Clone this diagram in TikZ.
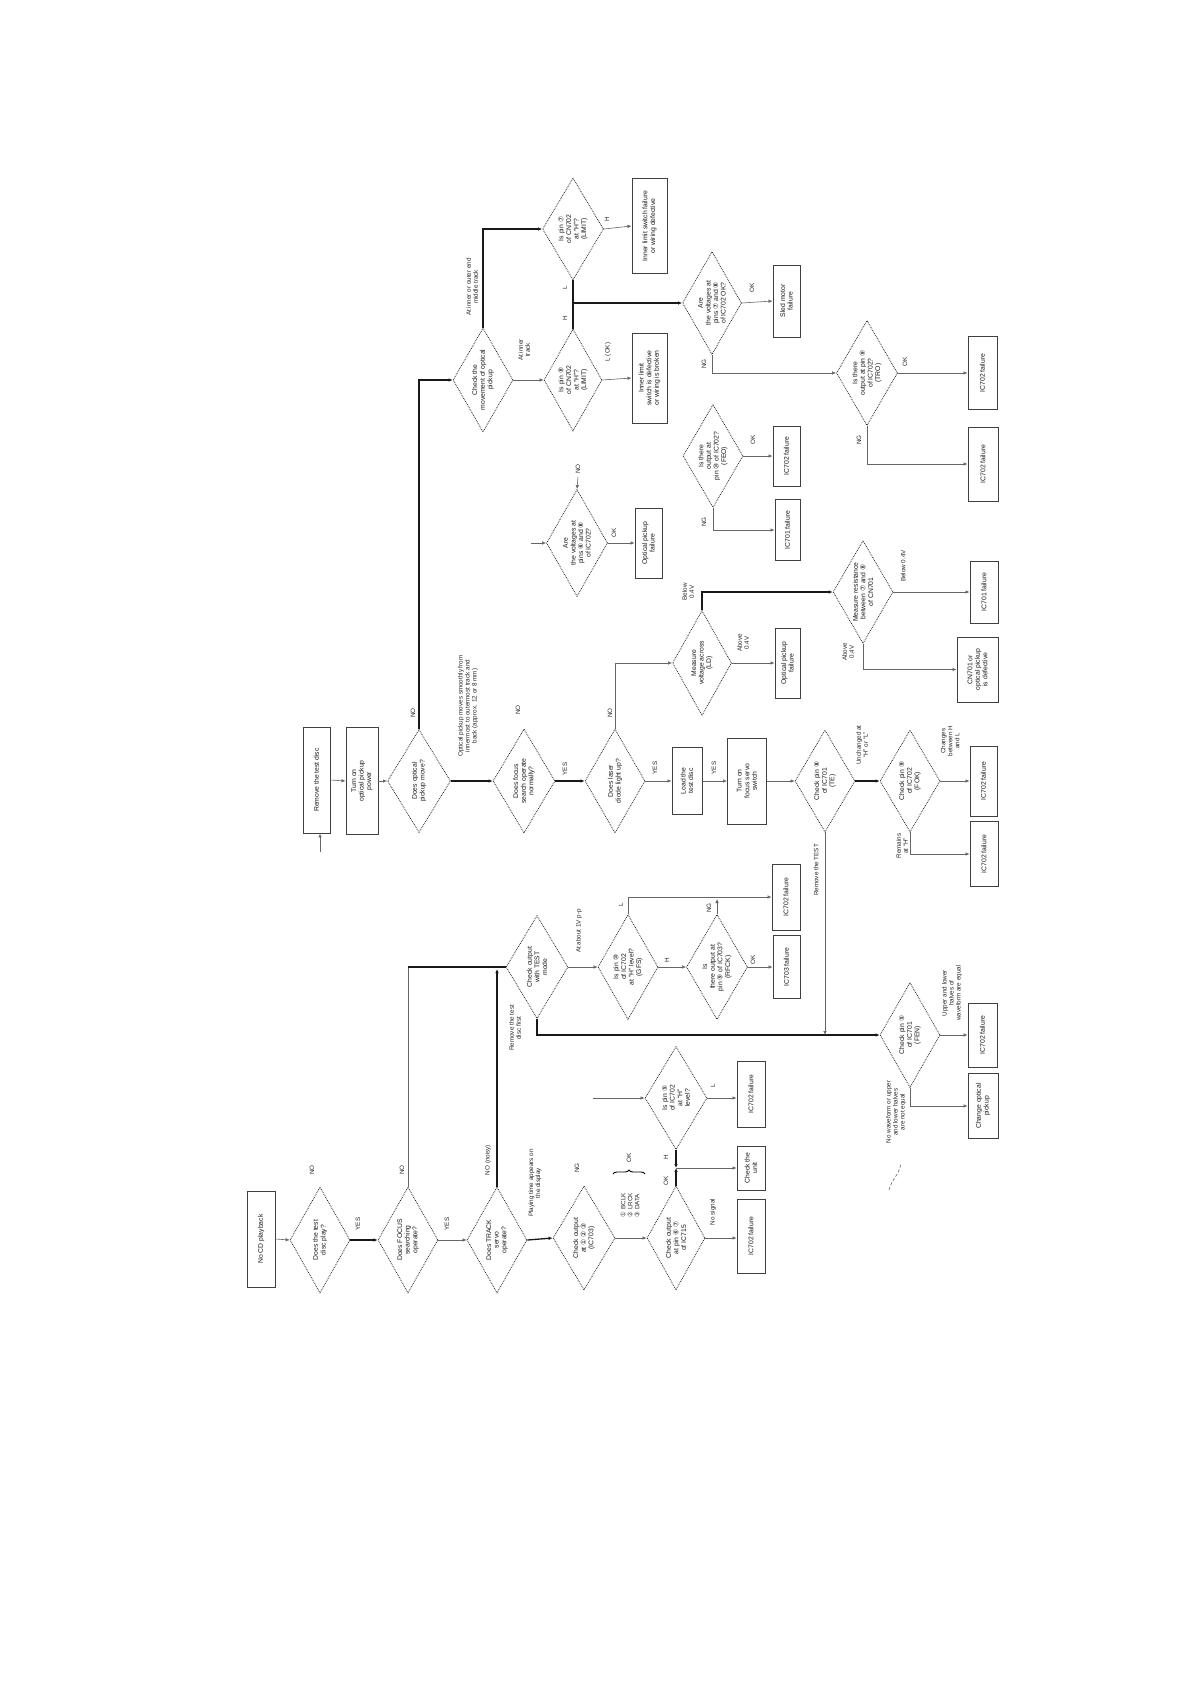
\documentclass[tikz,border=0pt]{standalone}
\usepackage{fontspec}
\setmainfont{Liberation Sans}
\newfontfamily\dvs{DejaVu Sans}
\usetikzlibrary{shapes.geometric,decorations.pathreplacing,arrows.meta}
\newcommand\ci[1]{{\dvs #1}}
\tikzset{
 dia/.style={draw=black!85, densely dotted, line width=0.8pt, shape=diamond, inner sep=0pt},
 bx/.style={draw=black!75, line width=0.9pt, inner sep=0pt},
 txt/.style={rotate=90, align=center, font=\fontsize{6.8}{7.6}\selectfont, inner sep=0pt, text=black!90},
 lbl/.style={rotate=90, align=center, font=\fontsize{6.3}{7}\selectfont, inner sep=0pt, text=black!85},
 thk/.style={line width=1.3pt, black!90, -{Latex[length=4pt,width=3.5pt]}},
 thn/.style={line width=0.6pt, black!60, -{Latex[length=4pt,width=3.5pt]}},
 thkl/.style={line width=1.3pt, black!90},
 thnl/.style={line width=0.6pt, black!60},
}
\newcommand\mkD[6]{\node[dia,minimum width=#4pt,minimum height=#5pt] (#1) at (#2,#3) {}; \node[txt] (#1t) at (#1) {#6};}
\newcommand\mkB[6]{\node[bx,minimum width=#4pt,minimum height=#5pt] (#1) at (#2,#3) {}; \node[txt] (#1t) at (#1) {#6};}
\begin{document}
\begin{tikzpicture}[x=1pt,y=-1pt]
\fill[white] (0,0) rectangle (1190,1684);
\useasboundingbox (0,0) rectangle (1190,1684);

% ---------- bottom row (main start) ----------
\mkB{bnocd}{261}{1239}{28}{96}{No CD playback}
\mkD{d1}{320}{1240}{60}{106}{Does the test\\disc play?}
\mkD{d2}{408}{1240}{60}{106}{Does FOCUS\\searching\\operate?}
\mkD{d3}{497}{1240}{60}{106}{Does TRACK\\servo\\operate?}
\mkD{d4}{584}{1238}{62}{104}{Check output\\at \ci{①} \ci{②} \ci{③}\\(IC703)}
\mkD{d5}{676}{1238}{58}{104}{Check output\\at pin \ci{⑥} \ci{⑦}\\of IC715}
\mkD{d6}{676}{1098}{62}{103}{Is pin \ci{⑤}\\of IC702\\at “H”\\level?}
\mkB{bunit}{751}{1168}{28}{44}{Check the\\unit}
\mkB{bns}{751}{1236}{28}{74}{IC702 failure}
\mkB{bh1}{751}{1094}{28}{66}{IC702 failure}

\draw[thn] (bnocd.east) -- (d1.west);
\draw[thk] (d1.east) -- (d2.west);
\draw[thn] (d2.east) -- (d3.west);
\draw[thk] (d3.east) -- (d4.west);
\draw[thn] (d4.east) -- (d5.west);
\draw[thn] (d5.east) -- (d5.east -| bns.west);
\coordinate (j5) at (676,1168);
\draw[thk] (d5.north) -- (j5);
\draw[thk] (d6.south) -- (j5);
\draw[thn] (j5) -- (j5 -| bunit.west);
\draw[thn] (d6.east) -- (d6.east -| bh1.west);
\coordinate (s6) at (593,1098);
\draw[thn] (s6) -- (d6.west);

\node[lbl] (l1) at (312,1170) {NO};
\node[lbl] (l2) at (358,1224) {YES};
\node[lbl] (l3) at (402,1170) {NO};
\node[lbl] (l4) at (447,1224) {YES};
\node[lbl] (l5) at (488,1160) {NO (noisy)};
\node[lbl] (l6) at (535,1183) {Playing time appears on\\the display};
\node[lbl] (l7) at (577,1168) {NG};
\node[lbl,align=left] (l8) at (630,1205) {\ci{①} BCLK\\\ci{②} LRCK\\\ci{③} DATA};
\draw[decorate,decoration={brace,amplitude=4pt},line width=0.9pt] (613,1174) -- (645,1174);
\node[lbl] (l9) at (629,1158) {OK};
\node[lbl] (l10) at (713,1212) {No signal};
\node[lbl] (l11) at (666,1181) {OK};
\node[lbl] (l12) at (666,1157) {H};
\node[lbl] (l13) at (713,1086) {L};

% ---------- row at y 967 ----------
\mkD{dco}{537}{967}{62}{103}{Check output\\with TEST\\mode}
\mkD{d7}{628}{967}{60}{105}{Is pin \ci{⑩}\\of IC702\\at “H” level?\\(GFS)}
\mkD{d8}{717}{967}{61}{105}{Is\\there output at\\pin \ci{⑨} of IC703?\\(RFCK)}
\mkB{bg1}{786}{897}{28}{66}{IC702 failure}
\mkB{bg2}{786.5}{967}{27}{63}{IC703 failure}

\draw[thnl] (d2.north) -- (408,967);
\draw[thkl] (408,967) -- (dco.west);
\draw[thk] (d3.north) -- (497,969);
\draw[thn] (dco.east) -- (d7.west);
\draw[thn] (d7.north) |- (bg1.west);
\draw[thn] (d8.north) -- (717,899);
\draw[thn] (d7.east) -- (d8.west);
\draw[thn] (d8.east) -- (bg2.west);
\node[lbl] (l14) at (579,931) {At about 1V p-p};
\node[lbl] (l15) at (621,905) {L};
\node[lbl] (l16) at (709,908) {NG};
\node[lbl] (l17) at (667,960) {H};
\node[lbl] (l18) at (753,960) {OK};
\node[lbl] (l19) at (515,1028) {Remove the test\\disc first};

% ---------- FEN ----------
\mkD{dfen}{910}{1035}{60}{105}{Check pin \ci{⑤}\\of IC701\\(FEN)}
\mkB{bfen1}{982.5}{1035}{29}{64}{IC702 failure}
\mkB{bfen2}{983}{1106}{30}{65}{Change optical\\pickup}
\draw[thk] (dco.south) |- (dfen.west);
\node[lbl] (l20) at (952,993) {Upper and lower\\halves of\\waveform are equal};
\draw[thn] (dfen.east) -- (bfen1.west);
\draw[thn] (dfen.south) |- (bfen2.west);
\node[lbl] (l21) at (896,1112) {No waveform or upper\\and lower halves\\are not equal};
\draw[densely dashed, black!60, line width=0.6pt] (889,1190) .. controls (892,1178) and (899,1176) .. (901,1163);

% ---------- middle row at y 781 ----------
\mkB{brm}{316.5}{780}{27}{106}{Remove the test disc}
\mkB{bturn}{362}{781}{32}{107}{Turn on\\optical pickup\\power}
\mkD{dopm}{419}{781}{63}{103}{Does optical\\pickup move?}
\mkD{dfs}{524}{781}{62}{104}{Does focus\\search operate\\normally?}
\mkD{dld}{615}{781}{60}{104}{Does laser\\diode light up?}
\mkB{bld}{687}{781}{30}{67}{Load the\\test disc}
\mkB{bfs}{747}{781}{39}{86}{Turn on\\focus servo\\switch}
\mkD{dic1}{825}{781}{60}{102}{Check pin \ci{⑧}\\of IC701\\(TE)}
\mkD{dic2}{910}{781}{60}{102}{Check pin \ci{⑨}\\of IC702\\(FOK)}
\mkB{bf1}{983.5}{781}{27}{70}{IC702 failure}
\mkB{bf2}{984}{854}{28}{65}{IC702 failure}

\coordinate (sr) at (320,852);
\draw[thn] (sr) -- (sr |- brm.south);
\draw[thn] (brm.east) -- (bturn.west);
\draw[thn] (bturn.east) -- (dopm.west);
\draw[thk] (dopm.east) -- (dfs.west);
\draw[thk] (dfs.east) -- (dld.west);
\draw[thn] (dld.east) -- (bld.west);
\draw[thn] (bld.east) -- (bfs.west);
\draw[thn] (bfs.east) -- (dic1.west);
\draw[thk] (dic1.east) -- (dic2.west);
\draw[thn] (dic2.east) -- (bf1.west);
\draw[thn] (dic2.south) |- (bf2.west);
\draw[thn] (dic1.south) -- (825,1035);
\node[lbl] (l22) at (413,713) {NO};
\node[lbl] (l23) at (468,706) {Optical pickup moves smoothly from\\innermost to outermost track and\\back (approx. 12 or 8 mm)};
\node[lbl] (l24) at (518,710) {NO};
\node[lbl] (l25) at (565,769) {YES};
\node[lbl] (l26) at (610,713) {NO};
\node[lbl] (l27) at (655,768) {YES};
\node[lbl] (l28) at (714,768) {YES};
\node[lbl] (l29) at (862,745) {Unchanged at\\“H” or “L”};
\node[lbl] (l30) at (950,741) {Changes\\between H\\and L};
\node[lbl] (l31) at (902,846) {Remains\\at “H”};
\node[lbl] (l32) at (816,870) {Remove the TEST};

% ---------- LD / resistance ----------
\mkD{dmeas}{702}{663}{59}{105}{Measure\\voltage across\\(LD)}
\mkD{dres}{863}{592}{60}{103}{Measure resistance\\between \ci{⑦} and \ci{⑧}\\of CN701}
\mkB{bopt2}{787.5}{663}{25}{70}{Optical pickup\\failure}
\mkB{br1}{984}{592}{28}{62}{IC701 failure}
\mkB{br2}{977.5}{669.5}{41}{65}{CN701 or\\optical pickup\\is defective}
\draw[thn] (dld.north) |- (dmeas.west);
\draw[thk] (dmeas.north) |- (dres.west);
\draw[thn] (dmeas.east) -- (bopt2.west);
\draw[thn] (dres.east) -- (br1.west);
\draw[thn] (dres.south) |- (br2.west);
\node[lbl] (l33) at (688,592) {Below\\0.4V};
\node[lbl] (l34) at (743,643) {Above\\0.4V};
\node[lbl] (l35) at (903,566) {Below 0.4V};
\node[lbl] (l36) at (848,652) {Above\\0.4V};

% ---------- optical / FE ----------
\mkD{dopt}{577}{543}{61}{107}{Are\\the voltages at\\pins \ci{⑥} and \ci{⑧}\\of IC702?}
\mkB{bopt1}{648.5}{543}{27}{70}{Optical pickup\\failure}
\mkD{dm1}{713}{456}{60}{103}{Is there\\output at\\pin \ci{⑩} of IC702?\\(FEO)}
\mkB{bica}{786.5}{456}{27}{60}{IC702 failure}
\mkB{bicb}{787.5}{530}{25}{61}{IC701 failure}
\coordinate (so1) at (578,477);
\draw[thn] (so1) -- (dopt.north);
\coordinate (so2) at (531,543);
\draw[thn] (so2) -- (dopt.west);
\draw[thn] (dopt.east) -- (bopt1.west);
\draw[thn] (dm1.east) -- (bica.west);
\draw[thn] (dm1.south) |- (bicb.west);
\node[lbl] (l37) at (614,533) {OK};
\node[lbl] (l38) at (578,469) {NO};
\node[lbl] (l39) at (753,440) {OK};
\node[lbl] (l40) at (704,522) {NG};

% ---------- top region ----------
\mkD{dchk}{483}{380}{60}{104}{Check the\\movement of optical\\pickup}
\mkD{dt1}{573}{229}{61}{102}{Is pin \ci{⑦}\\of CN702\\at “H”?\\(LIMIT)}
\mkD{dt2}{573}{380}{58}{102}{Is pin \ci{⑧}\\of CN702\\at “H”?\\(LIMIT)}
\mkD{dt3}{712}{303}{59}{103}{Are\\the voltages at\\pins \ci{⑦} and \ci{⑧}\\of IC702 OK?}
\mkD{dt4}{867}{373}{61}{105}{Is there\\output at pin \ci{⑨}\\of IC702?\\(TRO)}
\mkB{blim1}{649.5}{226}{35}{95}{Inner limit switch failure\\or wiring defective}
\mkB{blim2}{649.5}{378}{35}{90}{Inner limit\\switch is defective\\or wiring is broken}
\mkB{bsled}{786.5}{301}{27}{72}{Sled motor\\failure}
\mkB{btr}{982.5}{373}{29}{73}{IC702 failure}
\mkB{btr2}{983}{464}{30}{74}{IC702 failure}

\draw[thk] (dopm.north) |- (dchk.west);
\draw[thk] (dchk.north) |- (dt1.west);
\draw[thn] (dchk.east) -- (dt2.west);
\draw[thn] (dt1.east) -- (blim1.west);
\draw[thn] (dt2.east) -- (blim2.west);
\coordinate (jt) at (573,303);
\draw[thkl] (dt1.south) -- (jt);
\draw[thkl] (dt2.north) -- (jt);
\draw[thk] (jt) -- (dt3.west);
\draw[thn] (dt3.east) -- (bsled.west);
\draw[thn] (dt3.south) |- (dt4.west);
\draw[thn] (dt4.east) -- (btr.west);
\draw[thn] (dt4.south) |- (btr2.west);
\node[lbl] (l41) at (472,287) {At inner or outer end\\middle track};
\node[lbl] (l42) at (524,350) {At inner\\track};
\node[lbl] (l43) at (607,219) {H};
\node[lbl] (l44) at (565,288) {L};
\node[lbl] (l45) at (565,318) {H};
\node[lbl] (l46) at (608,352) {L (OK)};
\node[lbl] (l47) at (752,288) {OK};
\node[lbl] (l48) at (704,364) {NG};
\node[lbl] (l49) at (905,362) {OK};
\node[lbl] (l50) at (859,440) {NG};
\end{tikzpicture}
\end{document}
